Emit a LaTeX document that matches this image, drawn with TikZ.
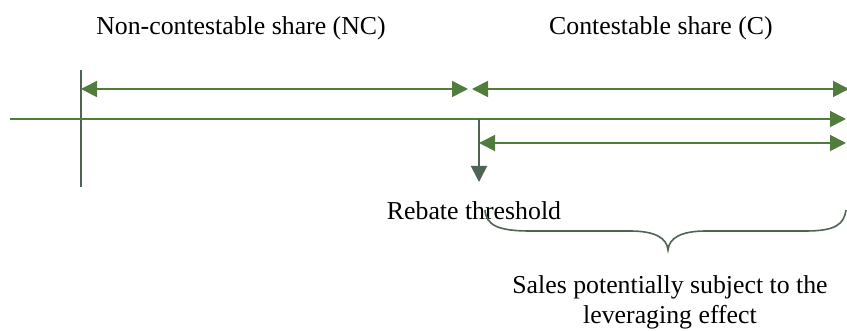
\documentclass[tikz,border=0pt]{standalone}
\usepackage{fontspec}
\setmainfont{Liberation Serif}
\usetikzlibrary{arrows.meta}
\definecolor{ogreen}{HTML}{507C3C}
\definecolor{ogray}{HTML}{4F6452}
\begin{document}
\begin{tikzpicture}[x=0.5pt,y=-0.5pt,
  garrow/.style={draw=ogreen,line width=0.85pt,-{Triangle[length=8pt,width=8pt]}},
  gdouble/.style={draw=ogreen,line width=0.85pt,{Triangle[length=8pt,width=8pt]}-{Triangle[length=8pt,width=8pt]}},
  lbl/.style={font=\fontsize{12.9}{15}\selectfont,inner sep=0pt}]
\useasboundingbox (0,0) rectangle (847,331);
% coordinates
\coordinate (axL) at (10,119);
\coordinate (axR) at (846,119);
\coordinate (vT) at (81,70);
\coordinate (vB) at (81,187);
\coordinate (t1L) at (81,89);
\coordinate (t1R) at (468,89);
\coordinate (t2L) at (472,89);
\coordinate (t2R) at (849,89);
\coordinate (thr) at (479,119);
\coordinate (thrB) at (479,182);
\coordinate (lL) at (479,143);
\coordinate (lR) at (846,143);
% lines
\draw[ogray,line width=0.85pt] (vT) -- (vB);
\draw[garrow] (axL) -- (axR);
\draw[gdouble] (t1L) -- (t1R);
\draw[gdouble] (t2L) -- (t2R);
\draw[gdouble] (lL) -- (lR);
\draw[draw=ogray,line width=0.85pt,-{Triangle[length=8pt,width=8pt]}] (thr) -- (thrB);
% labels
\node[lbl] (nc) at (241,28) {Non-contestable share (NC)};
\node[lbl] (c) at (661,28) {Contestable share (C)};
\node[lbl] (rt) at (474,211) {Rebate threshold};
\node[lbl,align=center] (sales) at (670,302) {Sales potentially subject to the\\[0pt]leveraging effect};
% brace
\draw[ogray,line width=0.8pt]
  (485,210) .. controls (486,226) and (500,231) .. (530,231)
  -- (630,231) .. controls (655,231) and (667,238) .. (668,250)
  .. controls (669,238) and (681,231) .. (706,231)
  -- (806,231) .. controls (836,231) and (844,224) .. (846,210);
\end{tikzpicture}
\end{document}
